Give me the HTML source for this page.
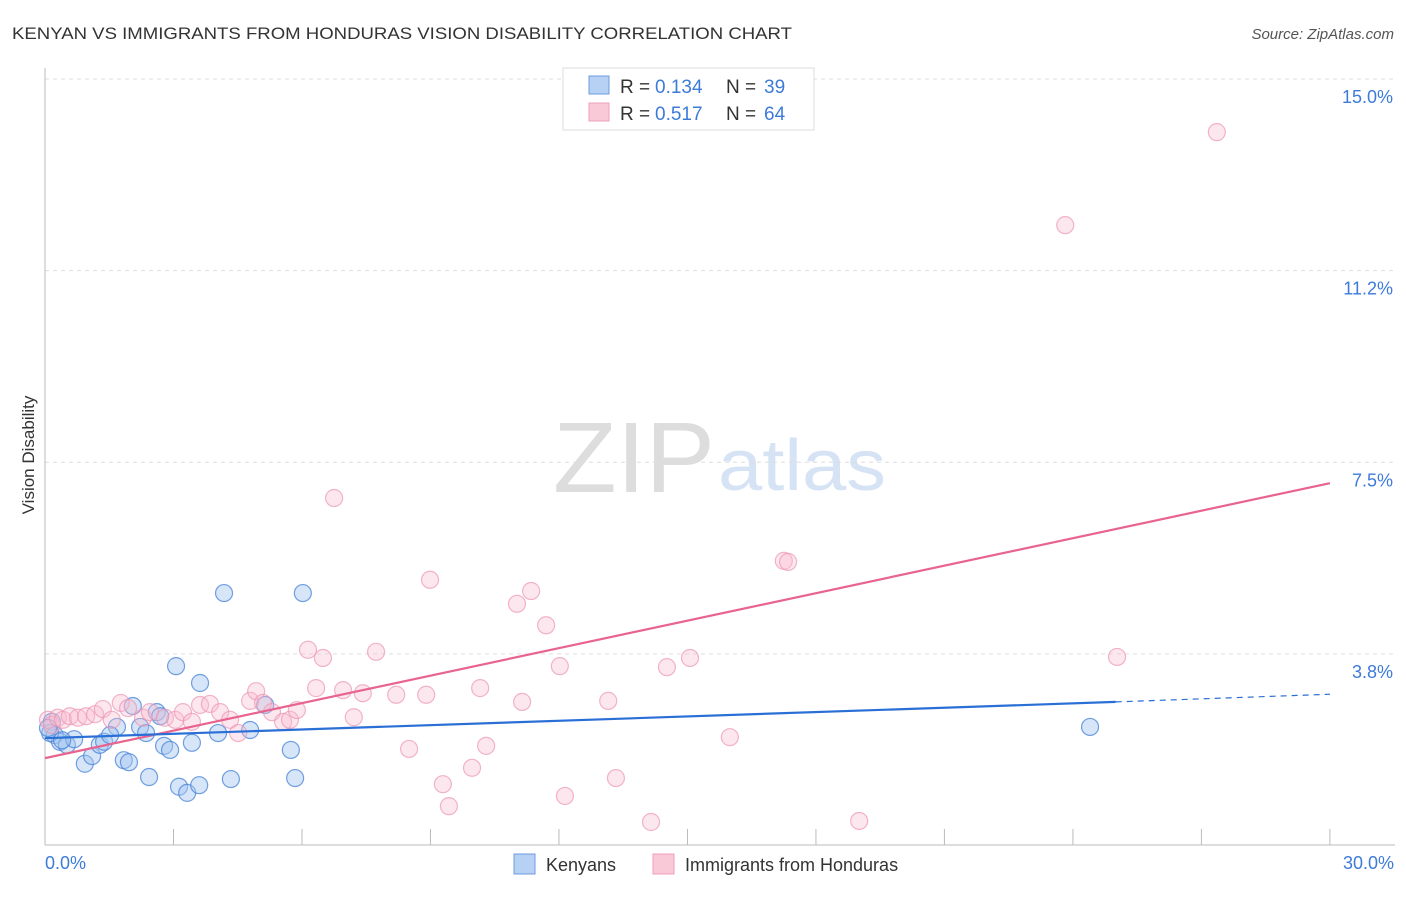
<!DOCTYPE html>
<html><head><meta charset="utf-8"><style>
body{margin:0;background:#fff;font-family:"Liberation Sans",sans-serif}
svg text{font-family:"Liberation Sans",sans-serif}
</style></head><body>
<svg width="1406" height="892" xmlns="http://www.w3.org/2000/svg">
<text x="12" y="39" font-size="17" fill="#333" textLength="780" lengthAdjust="spacingAndGlyphs">KENYAN VS IMMIGRANTS FROM HONDURAS VISION DISABILITY CORRELATION CHART</text>
<text x="1394" y="39" font-size="15" fill="#555" font-style="italic" text-anchor="end">Source: ZipAtlas.com</text>
<text x="553" y="492" font-size="100" fill="#ddd" font-family="Liberation Serif" textLength="162" lengthAdjust="spacingAndGlyphs">ZIP</text>
<text x="718" y="490" font-size="72" fill="#d6e3f5" textLength="168" lengthAdjust="spacingAndGlyphs">atlas</text>
<g id="grid"></g><g id="axes"></g><g id="marks"></g>
<text transform="translate(34,455) rotate(-90)" font-size="17" fill="#333" text-anchor="middle">Vision Disability</text>
<text x="45" y="869" font-size="18" fill="#3d7bd9">0.0%</text>
<text x="1394" y="869" font-size="18" fill="#3d7bd9" text-anchor="end">30.0%</text>
<g>
<rect x="563" y="68" width="251" height="62" fill="#fff" stroke="#ddd"/>
<rect x="589" y="76" width="20" height="18" fill="#b7d1f5" stroke="#6b9de0"/>
<rect x="589" y="103" width="20" height="18" fill="#f9c9d7" stroke="#eea0b8"/>
<text x="620" y="93" font-size="19" fill="#333">R =</text>
<text x="655" y="93" font-size="19" fill="#3d7bd9">0.134</text>
<text x="726" y="93" font-size="19" fill="#333">N =</text>
<text x="764" y="93" font-size="19" fill="#3d7bd9">39</text>
<text x="620" y="120" font-size="19" fill="#333">R =</text>
<text x="655" y="120" font-size="19" fill="#3d7bd9">0.517</text>
<text x="726" y="120" font-size="19" fill="#333">N =</text>
<text x="764" y="120" font-size="19" fill="#3d7bd9">64</text>
</g>
<g>
<rect x="514" y="854" width="21" height="20" fill="#b7d1f5" stroke="#6b9de0"/>
<text x="546" y="871" font-size="18" fill="#333">Kenyans</text>
<rect x="653" y="854" width="21" height="20" fill="#f9c9d7" stroke="#eea0b8"/>
<text x="685" y="871" font-size="18" fill="#333">Immigrants from Honduras</text>
</g>
</svg>
<script>
const yTicks=[15,11.25,7.5,3.75];
const yTickLabels=["15.0%","11.2%","7.5%","3.8%"];
const xTicks=[0,3,6,9,12,15,18,21,24,27,30];
const kenX=[0.16,0.23,0.35,0.51,0.68,0.93,1.10,1.28,1.38,1.68,1.84,1.96,2.05,2.22,2.36,2.43,2.61,2.69,2.78,2.92,3.06,3.13,3.32,3.43,3.60,3.62,4.04,4.18,4.34,4.79,5.14,5.74,5.84,6.02,24.40,0.12,0.40,0.07,1.52];
const kenY=[2.42,2.16,2.03,1.97,2.08,1.60,1.75,1.97,2.03,2.32,1.67,1.63,2.73,2.32,2.20,1.34,2.61,2.53,1.95,1.87,3.51,1.15,1.03,2.01,1.18,3.18,2.20,4.94,1.30,2.26,2.75,1.87,1.32,4.94,2.32,2.20,2.06,2.30,2.16];
const honX=[0.07,0.16,0.30,0.42,0.58,0.77,0.96,1.17,1.35,1.56,1.77,1.94,2.29,2.45,2.80,3.04,3.22,3.43,3.62,3.85,4.09,4.32,4.51,4.79,4.93,5.09,5.30,5.56,5.72,5.88,6.14,6.33,6.49,6.75,6.96,7.21,7.42,7.73,8.20,8.50,8.90,8.99,9.29,9.43,9.97,10.16,10.30,11.02,11.14,11.35,11.70,12.02,12.14,13.15,13.33,14.15,14.52,15.06,15.99,17.25,17.35,19.01,23.82,25.03,27.36];
const honY=[2.46,2.36,2.50,2.46,2.53,2.50,2.53,2.57,2.67,2.46,2.79,2.69,2.50,2.61,2.50,2.46,2.61,2.42,2.75,2.77,2.61,2.46,2.20,2.83,3.02,2.79,2.61,2.42,2.46,2.65,3.83,3.08,3.67,6.80,3.04,2.51,2.98,3.79,2.95,1.89,2.95,5.20,1.20,0.77,1.52,3.08,1.95,4.73,2.81,4.98,4.31,3.51,0.97,2.83,1.32,0.46,3.49,3.67,2.12,5.57,5.55,0.48,12.14,3.69,13.96];
const kenTrend=[2.10,2.81,2.96]; // at x=0,25,30
const honTrend=[1.71,7.09]; // at x=0,30
const X=v=>45+v*42.83, Y=v=>845.5-v*51.1;
const NS="http://www.w3.org/2000/svg";
function mk(p,t,a){const e=document.createElementNS(NS,t);for(const k in a)e.setAttribute(k,a[k]);p.appendChild(e);return e;}
const grid=document.getElementById('grid'),axes=document.getElementById('axes'),marks=document.getElementById('marks');
yTicks.forEach((t,i)=>{
 const l=mk(grid,'line',{x1:45,x2:1395,y1:Y(t),y2:Y(t),stroke:'#ddd','stroke-dasharray':'4,4'});
 
 
 const tx=mk(grid,'text',{x:1393,y:Y(t)+24,'font-size':18,fill:'#3d7bd9','text-anchor':'end'});
 tx.textContent=yTickLabels[i];
 
 
});
const ax=mk(axes,'line',{x1:45,x2:45,y1:68,y2:845,stroke:'#bbb'});


const bx=mk(axes,'line',{x1:45,x2:1395,y1:845,y2:845,stroke:'#bbb'});


xTicks.forEach(t=>{
 const l=mk(axes,'line',{x1:X(t),x2:X(t),y1:829,y2:845,stroke:'#bbb'});
 
 
});
kenX.forEach((x,i)=>{
 const c=mk(marks,'circle',{cx:X(x),cy:Y(kenY[i]),r:8.5,fill:'rgba(165,198,240,0.45)',stroke:'rgba(70,130,215,0.75)','stroke-width':1.2});
 
 
});
honX.forEach((x,i)=>{
 const c=mk(marks,'circle',{cx:X(x),cy:Y(honY[i]),r:8.5,fill:'rgba(248,185,205,0.35)',stroke:'rgba(235,150,180,0.7)','stroke-width':1.2});
 
 
});
const hl=mk(marks,'line',{x1:X(0),y1:Y(honTrend[0]),x2:X(30),y2:Y(honTrend[1]),stroke:'#e8648e','stroke-width':2.2});


const kl=mk(marks,'line',{x1:X(0),y1:Y(kenTrend[0]),x2:X(25),y2:Y(kenTrend[1]),stroke:'#2a6fd6','stroke-width':2.2});


const kd=mk(marks,'line',{x1:X(25),y1:Y(kenTrend[1]),x2:X(30),y2:Y(kenTrend[2]),stroke:'#2a6fd6','stroke-width':1.2,'stroke-dasharray':'6,5'});


</script>
</body></html>
